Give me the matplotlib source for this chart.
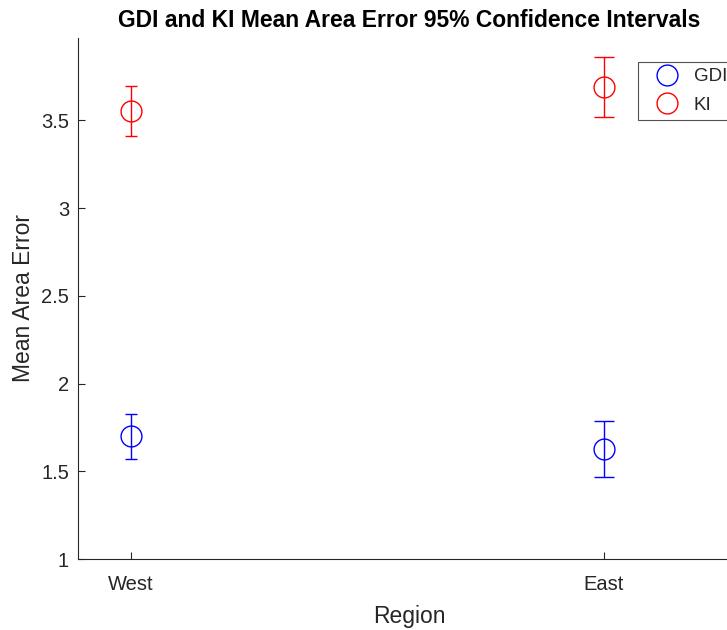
import matplotlib.pyplot as plt
from matplotlib.lines import Line2D

plt.rcParams['font.family'] = ['Liberation Sans', 'DejaVu Sans']

regions = ["West", "East"]
x_pos = [1, 2]

# mean area error and 95% CI half-widths
gdi_mean = [1.70, 1.63]
gdi_err = [0.128, 0.160]
ki_mean = [3.554, 3.689]
ki_err = [0.141, 0.171]

y_ticks = [1, 1.5, 2, 2.5, 3, 3.5]
y_tick_labels = ["1", "1.5", "2", "2.5", "3", "3.5"]

cap_sizes = [4, 7.5]
dark = '#262626'

fig = plt.figure(figsize=(7.27, 6.3), dpi=100)
ax = fig.add_axes([0.1073, 0.1122, 0.911, 0.828])

for i in range(len(regions)):
    ax.errorbar(x_pos[i], gdi_mean[i], yerr=gdi_err[i], fmt='o', color='blue',
                mfc='none', ms=15, mew=1.0, elinewidth=1.0, capsize=cap_sizes[i],
                capthick=1.0)
    ax.errorbar(x_pos[i], ki_mean[i], yerr=ki_err[i], fmt='o', color='red',
                mfc='none', ms=15, mew=1.0, elinewidth=1.0, capsize=cap_sizes[i],
                capthick=1.0)

ax.set_xlim(0.888, 2.288)
ax.set_ylim(1, 3.97)
ax.set_xticks(x_pos)
ax.set_xticklabels(regions)
ax.set_yticks(y_ticks)
ax.set_yticklabels(y_tick_labels)

for s in ['top', 'right']:
    ax.spines[s].set_visible(False)
for s in ['left', 'bottom']:
    ax.spines[s].set_color(dark)
    ax.spines[s].set_linewidth(0.8)

ax.tick_params(direction='in', length=5, width=0.8, color=dark,
               labelcolor=dark, labelsize=14.5)
ax.tick_params(axis='x', pad=11)
ax.tick_params(axis='y', pad=6.5)
ax.set_xlabel("Region", fontsize=16.5, color=dark, labelpad=8)
ax.set_ylabel("Mean Area Error", fontsize=16.5, color=dark, labelpad=4.5)
ax.set_title("GDI and KI Mean Area Error 95% Confidence Intervals",
             fontsize=16.5, fontweight='bold', pad=8)

handles = [Line2D([], [], ls='none', marker='o', ms=15, mfc='none', mew=1.0, color='blue'),
           Line2D([], [], ls='none', marker='o', ms=15, mfc='none', mew=1.0, color='red')]
leg = fig.legend(handles, ["GDI", "KI"], loc='upper left',
                 bbox_to_anchor=(0.8776, 0.9016), borderaxespad=0,
                 fontsize=13.5, fancybox=False, edgecolor=dark,
                 handletextpad=0.23, borderpad=0.33, labelspacing=0.6,
                 handlelength=2.4)
leg.get_frame().set_linewidth(0.8)
for t in leg.get_texts():
    t.set_color(dark)

fig.savefig("out.png", dpi=100)
